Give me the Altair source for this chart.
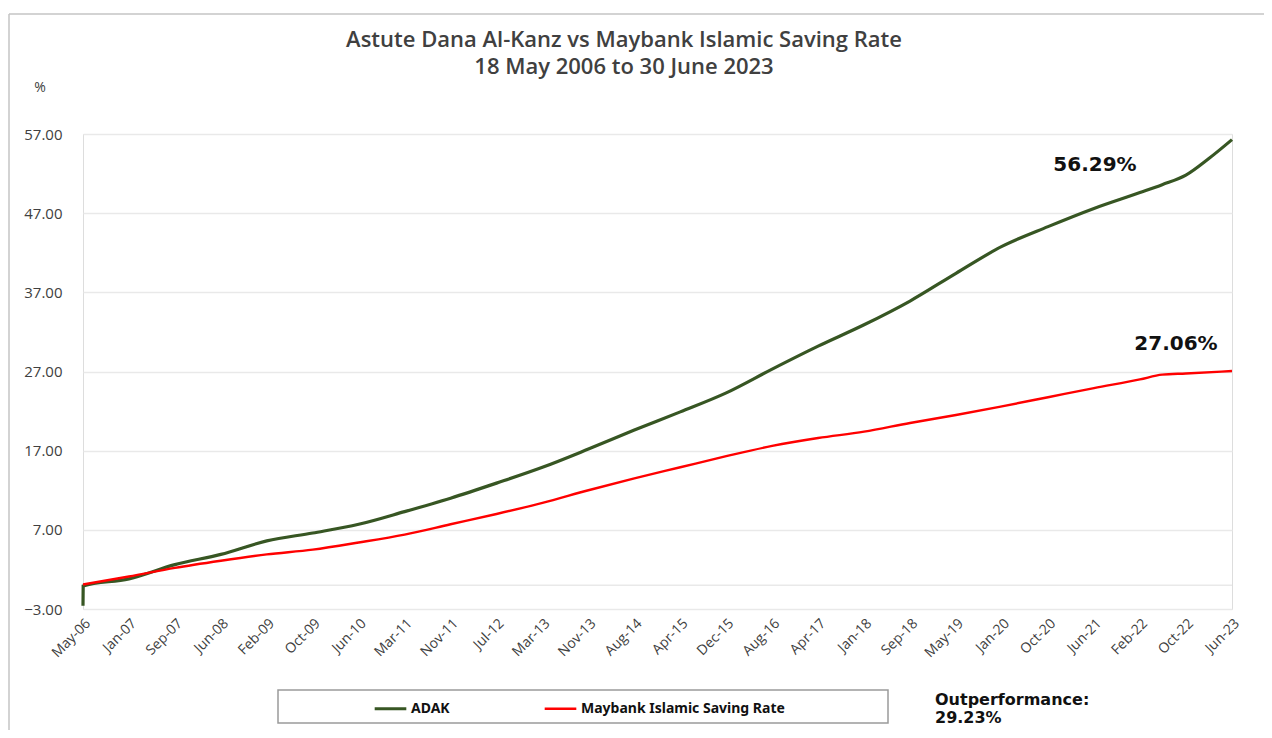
import altair as alt
import pandas as pd

# ---- data ----
tick_dates = ["2006-05-18", "2007-01-23", "2007-09-30", "2008-06-06", "2009-02-11",
              "2009-10-19", "2010-06-26", "2011-03-03", "2011-11-08", "2012-07-15",
              "2013-03-22", "2013-11-27", "2014-08-04", "2015-04-11", "2015-12-17",
              "2016-08-23", "2017-04-30", "2018-01-05", "2018-09-12", "2019-05-20",
              "2020-01-25", "2020-10-02", "2021-06-09", "2022-02-14", "2022-10-22",
              "2023-06-30"]

adak_dates = ["2006-05-18", "2006-05-19", "2007-01-23", "2007-09-30", "2008-06-06",
              "2009-02-11", "2009-10-19", "2010-06-26", "2011-03-03", "2011-11-08",
              "2012-07-15", "2013-03-22", "2013-11-27", "2014-08-04", "2015-04-11",
              "2015-12-17", "2016-08-23", "2017-04-30", "2018-01-05", "2018-09-12",
              "2019-05-20", "2020-01-25", "2020-10-02", "2021-06-09", "2022-02-14",
              "2022-06-15", "2022-10-22", "2023-02-24", "2023-06-30"]
adak_values = [-2.6, -0.1, 0.8, 2.6, 3.9, 5.6, 6.6, 7.7, 9.3, 11.0, 12.9, 14.9, 17.2,
               19.6, 21.9, 24.3, 27.3, 30.2, 32.9, 35.9, 39.4, 42.8, 45.3, 47.6, 49.6,
               50.6, 51.8, 53.9, 56.29]

msr_dates = ["2006-05-18", "2007-01-23", "2007-09-30", "2008-06-06", "2009-02-11",
             "2009-10-19", "2010-06-26", "2011-03-03", "2011-11-08", "2012-07-15",
             "2013-03-22", "2013-11-27", "2014-08-04", "2015-04-11", "2015-12-17",
             "2016-08-23", "2017-04-30", "2018-01-05", "2018-09-12", "2019-05-20",
             "2020-01-25", "2020-10-02", "2021-06-09", "2022-02-14", "2022-06-15",
             "2022-10-22", "2023-06-30"]
msr_values = [0.1, 1.1, 2.2, 3.1, 3.9, 4.5, 5.4, 6.4, 7.7, 9.0, 10.4, 12.0, 13.5, 14.9,
              16.3, 17.6, 18.6, 19.4, 20.5, 21.5, 22.6, 23.75, 24.9, 26.0, 26.6, 26.75,
              27.06]

series_names = ["ADAK", "Maybank Islamic Saving Rate"]
series_colors = ["#375623", "#ff0000"]
y_ticks = [-3, 7, 17, 27, 37, 47, 57]

title_lines = ["Astute Dana Al-Kanz vs Maybank Islamic Saving Rate", "18 May 2006 to 30 June 2023"]
end_labels = ["56.29%", "27.06%"]
outperf_lines = ["Outperformance:", "29.23%"]

# ---- build table ----
rows = [{"date": d, "value": v, "series": series_names[0]} for d, v in zip(adak_dates, adak_values)]
rows += [{"date": d, "value": v, "series": series_names[1]} for d, v in zip(msr_dates, msr_values)]
df = pd.DataFrame(rows)


def dt(s):
    y, m, d = s.split("-")
    return alt.DateTime(year=int(y), month=int(m), date=int(d), utc=True)


W, H = 1149, 475
FONT = "Open Sans"
TXT = "#404040"

x_scale = alt.Scale(type="utc", domain=[dt(tick_dates[0]), dt(tick_dates[-1])], nice=False)
y_scale = alt.Scale(domain=[-3, 57], nice=False, zero=False)

lines = alt.Chart(df).mark_line(interpolate="monotone").encode(
    x=alt.X("date:T", scale=x_scale, title=None,
            axis=alt.Axis(values=[dt(s) for s in tick_dates],
                          labelExpr="utcFormat(datum.value, '%b-%y')",
                          labelAngle=-45, labelFontSize=14, labelColor=TXT, labelFont=FONT,
                          labelPadding=7, domain=False, ticks=False, grid=False,
                          labelOverlap=False, labelFlush=False)),
    y=alt.Y("value:Q", scale=y_scale, title=None,
            axis=alt.Axis(values=y_ticks, format=".2f", labelFontSize=15, labelColor=TXT,
                          labelFont=FONT, labelPadding=21, domain=False, ticks=False,
                          grid=True, gridColor="#e9e9e9", gridWidth=1.6)),
    color=alt.Color("series:N", scale=alt.Scale(domain=series_names, range=series_colors),
                    title=None,
                    legend=alt.Legend(orient="none", legendX=290, legendY=557,
                                      direction="horizontal", symbolType="stroke",
                                      symbolSize=1000, symbolStrokeWidth=3,
                                      labelFontSize=14, labelFontWeight="bold",
                                      labelFont="Noto Sans", labelColor="#111111",
                                      labelLimit=400,
                                      labelOffset=3, columnPadding=89, padding=0)),
    strokeWidth=alt.StrokeWidth("series:N", scale=alt.Scale(domain=series_names, range=[3.2, 2.4]),
                                legend=None),
    order="date:T",
)

zero_line = alt.Chart().mark_rule(color="#e9e9e9", strokeWidth=1.6).encode(
    y=alt.datum(0, scale=y_scale)
)

# frame lines of the original chart box
frame_top = alt.Chart().mark_rule(color="#c4c4c4", strokeWidth=1.5).encode(
    x=alt.value(-74), x2=alt.value(W + 40), y=alt.value(-120))
frame_left = alt.Chart().mark_rule(color="#c4c4c4", strokeWidth=1.5).encode(
    x=alt.value(-74), y=alt.value(-120), y2=alt.value(H + 140))

legend_box = alt.Chart().mark_rect(fill="white", stroke="#9a9a9a", strokeWidth=1.5).encode(
    x=alt.value(195), x2=alt.value(805), y=alt.value(556), y2=alt.value(589))

t1 = alt.Chart().mark_text(text=title_lines[0], font=FONT, fontSize=22, fontWeight=600,
                           color=TXT, align="center", baseline="middle").encode(
    x=alt.value(541), y=alt.value(-94))
t2 = alt.Chart().mark_text(text=title_lines[1], font=FONT, fontSize=22, fontWeight=600,
                           color=TXT, align="center", baseline="middle").encode(
    x=alt.value(541), y=alt.value(-67))
pct = alt.Chart().mark_text(text="%", font=FONT, fontSize=14, color=TXT,
                            align="center", baseline="middle").encode(
    x=alt.value(-43), y=alt.value(-46))

lab1 = alt.Chart().mark_text(text=end_labels[0], font="DejaVu Sans", fontSize=20,
                             fontWeight="bold", color="#111111", align="center",
                             baseline="middle").encode(x=alt.value(1012), y=alt.value(31))
lab2 = alt.Chart().mark_text(text=end_labels[1], font="DejaVu Sans", fontSize=20,
                             fontWeight="bold", color="#111111", align="center",
                             baseline="middle").encode(x=alt.value(1093), y=alt.value(210))
op1 = alt.Chart().mark_text(text=outperf_lines[0], font="DejaVu Sans", fontSize=16,
                            fontWeight="bold", color="#111111", align="left",
                            baseline="middle").encode(x=alt.value(852), y=alt.value(566))
op2 = alt.Chart().mark_text(text=outperf_lines[1], font="DejaVu Sans", fontSize=16,
                            fontWeight="bold", color="#111111", align="left",
                            baseline="middle").encode(x=alt.value(852), y=alt.value(584))

chart = alt.layer(
    frame_top, frame_left, zero_line, legend_box, lines, t1, t2, pct, lab1, lab2, op1, op2
).properties(
    width=W, height=H,
    autosize=alt.AutoSizeParams(type="none"),
    padding={"left": 75, "top": 126, "right": 32, "bottom": 121},
).configure_view(stroke=None).configure(background="white")

chart.save("out.html", embed_options={"renderer": "svg", "actions": False})
